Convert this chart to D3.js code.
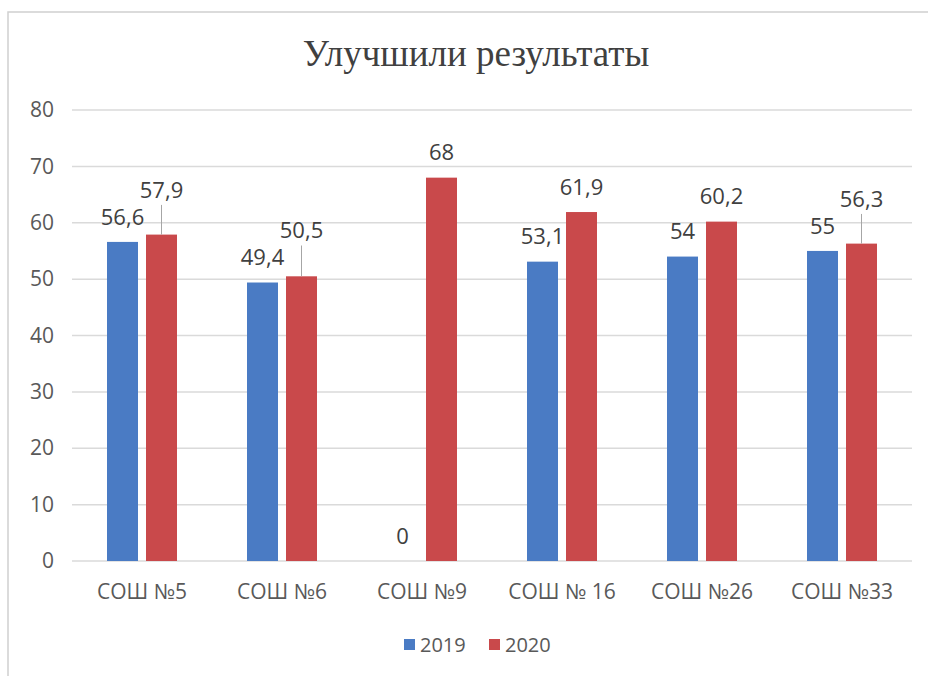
<!DOCTYPE html>
<meta charset="utf-8">
<head>
  <title>Улучшили результаты</title>
  <style>
    body { margin: 0; background: #fff; }
    text { font-family: "Open Sans", "Liberation Sans", sans-serif; }
  </style>
</head>

<script src="https://d3js.org/d3.v7.min.js"></script>

<div id="my_dataviz"></div>

<script>

// data
var schools = ["СОШ №5", "СОШ №6", "СОШ №9", "СОШ № 16", "СОШ №26", "СОШ №33"];
var years = ["2019", "2020"];
var values2019 = [56.6, 49.4, 0, 53.1, 54, 55];
var values2020 = [57.9, 50.5, 68, 61.9, 60.2, 56.3];
var yTicks = [0, 10, 20, 30, 40, 50, 60, 70, 80];
var colors = ["#4a7bc4", "#c9494b"];

var width = 928, height = 676;

var svg = d3.select("#my_dataviz")
  .append("svg")
    .attr("width", width)
    .attr("height", height);

// chart frame (only left and top edges visible)
svg.append("rect")
  .attr("x", 8).attr("y", 12)
  .attr("width", 940).attr("height", 700)
  .attr("fill", "none")
  .attr("stroke", "#d0d0d0")
  .attr("stroke-width", 1.5);

// title
svg.append("text")
  .attr("x", 476)
  .attr("y", 66)
  .attr("text-anchor", "middle")
  .style("font-family", "'Liberation Serif', 'DejaVu Serif', serif")
  .style("font-size", "37px")
  .style("fill", "#404040")
  .text("Улучшили результаты");

// scales
var x = d3.scaleBand()
  .domain(schools)
  .range([72, 912]);

var y = d3.scaleLinear()
  .domain([0, 80])
  .range([561, 110]);

var barW = 31, gap = 8;
function barX(i, s) {
  var c = x(schools[i]) + x.bandwidth() / 2;
  return s === 0 ? c - gap / 2 - barW : c + gap / 2;
}

// grid lines
svg.append("g")
  .selectAll("line")
  .data(yTicks)
  .enter().append("line")
    .attr("x1", 72).attr("x2", 912)
    .attr("y1", function(d) { return y(d); })
    .attr("y2", function(d) { return y(d); })
    .attr("stroke", "#dadada")
    .attr("stroke-width", 1.5);

// y axis labels
var yAxis = svg.append("g")
  .attr("transform", "translate(62,0)")
  .call(d3.axisLeft(y).tickValues(yTicks).tickSize(0).tickPadding(8));
yAxis.select(".domain").remove();
yAxis.selectAll("text")
  .style("font-family", "'Open Sans', sans-serif")
  .style("font-size", "21px")
  .style("fill", "#595959");

// x axis labels
var xAxis = svg.append("g")
  .attr("transform", "translate(0,561)")
  .call(d3.axisBottom(x).tickSize(0).tickPadding(23));
xAxis.select(".domain").remove();
xAxis.selectAll("text")
  .style("font-family", "'Open Sans', sans-serif")
  .style("font-size", "21px")
  .style("fill", "#595959");

// bars
var series = [values2019, values2020];
series.forEach(function(vals, s) {
  svg.append("g")
    .selectAll("rect")
    .data(vals)
    .enter().append("rect")
      .attr("x", function(d, i) { return barX(i, s); })
      .attr("y", function(d) { return y(d); })
      .attr("width", barW)
      .attr("height", function(d) { return y(0) - y(d); })
      .attr("fill", colors[s]);
});

// data labels; 2020 labels are lifted with a leader line when they would hit the 2019 label
function fmt(v) { return String(v).replace(".", ","); }
var labelG = svg.append("g")
  .style("font-family", "'Open Sans', sans-serif")
  .style("font-size", "22px")
  .style("fill", "#404040");

values2019.forEach(function(v, i) {
  var cx = barX(i, 0) + barW / 2;
  var ly = y(v) - 25;
  labelG.append("text")
    .attr("x", cx).attr("y", ly).attr("dy", "0.35em")
    .attr("text-anchor", "middle")
    .text(fmt(v));

  var w = values2020[i];
  var rx = barX(i, 1) + barW / 2;
  var ry = y(w) - 25;
  var lifted = false;
  if (v > 0 && ry > ly - 27) { ry = ly - 27; lifted = true; }
  if (lifted) {
    svg.append("line")
      .attr("x1", rx).attr("x2", rx)
      .attr("y1", ry + 15).attr("y2", y(w))
      .attr("stroke", "#a6a6a6")
      .attr("stroke-width", 1);
  }
  labelG.append("text")
    .attr("x", rx).attr("y", ry).attr("dy", "0.35em")
    .attr("text-anchor", "middle")
    .text(fmt(w));
});

// legend
var legend = svg.append("g")
  .attr("transform", "translate(0,645)");
var lx = [404, 489];
years.forEach(function(yr, s) {
  legend.append("rect")
    .attr("x", lx[s]).attr("y", -6)
    .attr("width", 11).attr("height", 11)
    .attr("fill", colors[s]);
  legend.append("text")
    .attr("x", lx[s] + 16).attr("y", 0).attr("dy", "0.35em")
    .style("font-family", "'Open Sans', sans-serif")
    .style("font-size", "20px")
    .style("fill", "#595959")
    .text(yr);
});

</script>
